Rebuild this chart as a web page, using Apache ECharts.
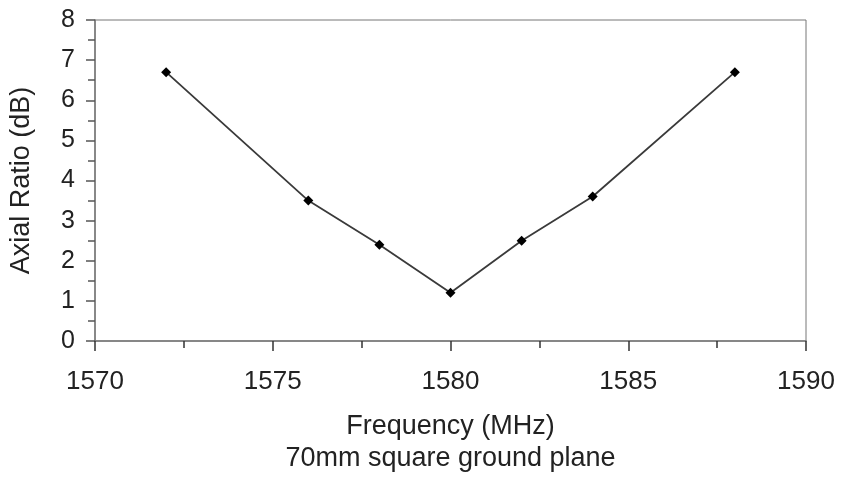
<!DOCTYPE html>
<html>
<head>
<meta charset="utf-8">
<script src="https://cdn.jsdelivr.net/npm/echarts@6/dist/echarts.min.js"></script>
<style>
  html, body { margin: 0; padding: 0; background: #fff; }
  #chart { width: 844px; height: 480px; }
</style>
</head>
<body>
<div id="chart"></div>
<script>
// frequency in MHz and measured axial ratio in dB
var freqs = [1572, 1576, 1578, 1580, 1582, 1584, 1588];
var axialRatio = [6.7, 3.5, 2.4, 1.2, 2.5, 3.6, 6.7];
var xTicks = [1570, 1575, 1580, 1585, 1590];
var yTicks = [0, 1, 2, 3, 4, 5, 6, 7, 8];

var font = '"Liberation Sans", Arial, sans-serif';
var axisGray = '#777';

var chart = echarts.init(document.getElementById('chart'));
var option = {
  animation: false,
  backgroundColor: '#fff',
  grid: {
    left: 92, right: 38, top: 20, bottom: 136,
    show: true, borderColor: axisGray, borderWidth: 1
  },
  xAxis: {
    type: 'value',
    min: xTicks[0],
    max: xTicks[xTicks.length - 1],
    interval: 5,
    name: 'Frequency (MHz)\n70mm square ground plane',
    nameLocation: 'middle',
    nameGap: 70,
    nameTextStyle: { fontFamily: font, fontSize: 27, color: '#222', lineHeight: 32 },
    axisLine: { lineStyle: { color: axisGray, width: 1.5 } },
    axisTick: { show: true, inside: false, length: 10, lineStyle: { color: '#333', width: 1.5 } },
    minorTick: { show: true, splitNumber: 2, length: 7, lineStyle: { color: '#333', width: 1.5 } },
    axisLabel: {
      fontFamily: font, fontSize: 26, color: '#222', margin: 28,
      formatter: function (v) { return String(v); }
    },
    splitLine: { show: false }
  },
  yAxis: {
    type: 'value',
    min: yTicks[0],
    max: yTicks[yTicks.length - 1],
    interval: 1,
    name: 'Axial Ratio (dB)',
    nameLocation: 'middle',
    nameGap: 60,
    nameTextStyle: { fontFamily: font, fontSize: 27, color: '#222' },
    axisLine: { show: true, lineStyle: { color: axisGray, width: 1.5 } },
    axisTick: { show: true, inside: false, length: 9, lineStyle: { color: '#555', width: 1.5 } },
    minorTick: { show: true, splitNumber: 2, length: 7, lineStyle: { color: '#555', width: 1.5 } },
    axisLabel: { fontFamily: font, fontSize: 25, color: '#222', margin: 20 },
    splitLine: { show: false }
  },
  series: [{
    type: 'line',
    data: freqs.map(function (f, i) { return [f, axialRatio[i]]; }),
    symbol: 'diamond',
    symbolSize: 10,
    showSymbol: true,
    itemStyle: { color: '#000' },
    lineStyle: { color: '#3a3a3a', width: 1.8 }
  }]
};
chart.setOption(option);
</script>
</body>
</html>
